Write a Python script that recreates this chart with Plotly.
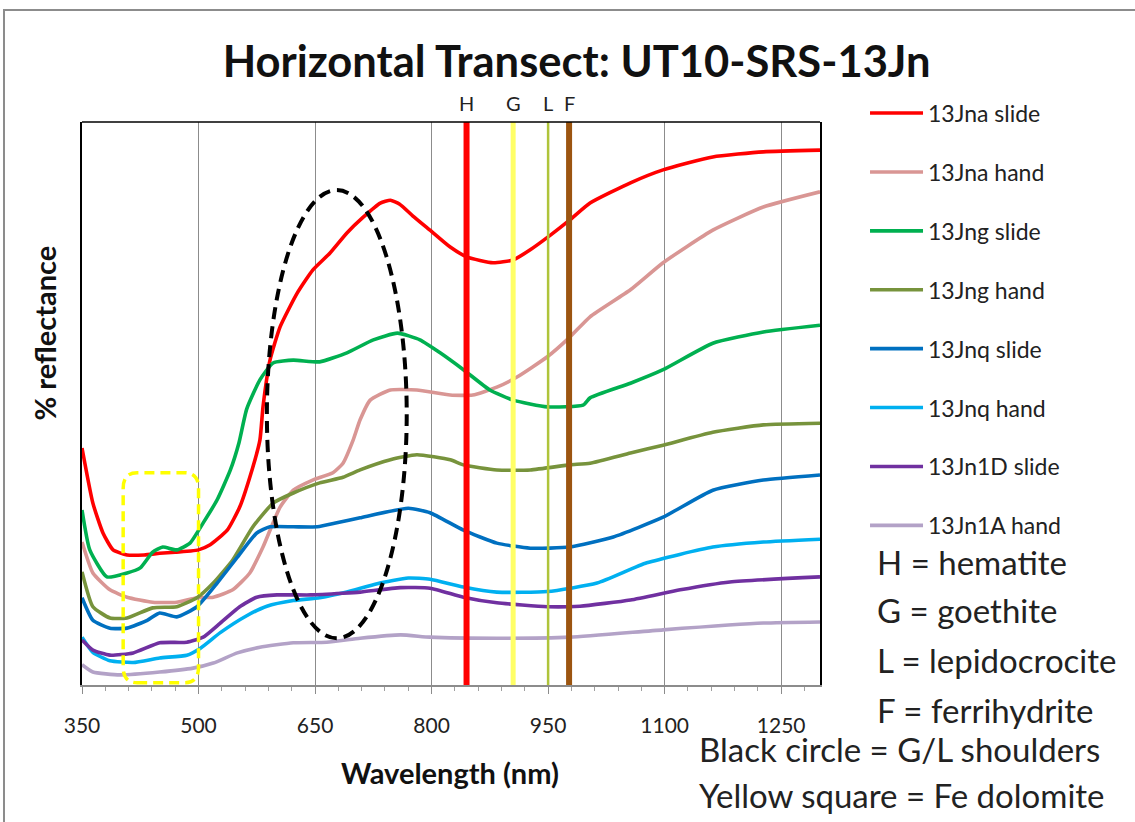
import plotly.graph_objects as go

# ---------------- data ----------------
series_names = ["13Jna slide", "13Jna hand", "13Jng slide", "13Jng hand",
                "13Jnq slide", "13Jnq hand", "13Jn1D slide", "13Jn1A hand"]
series_colors = ["#FF0000", "#D99694", "#00B050", "#77933C",
                 "#0070C0", "#00B0F0", "#7030A0", "#B3A2C7"]

wl_na_slide = [350, 364, 377, 390, 408, 430, 450, 470, 490, 500, 515, 537, 553, 566, 579, 583, 592, 605, 627, 647,
               669, 691, 712, 734, 747, 759, 776, 798, 824, 846, 879, 905, 927, 953, 978, 1004, 1056, 1098, 1162, 1227, 1300]
r_na_slide = [42.1, 32.3, 27.0, 24.0, 23.1, 23.1, 23.4, 23.6, 23.8, 24.0, 24.9, 27.5, 31.6, 36.9, 43.5, 49.4, 57.7, 63.6, 69.6, 73.7,
              76.7, 80.3, 83.1, 85.6, 86.1, 85.4, 83.3, 80.8, 77.8, 76.0, 75.0, 75.5, 77.3, 79.9, 82.6, 85.6, 89.2, 91.5, 93.8, 94.7, 95.0]

wl_na_hand = [350, 364, 386, 408, 441, 472, 498, 519, 544, 566, 583, 605, 622, 647, 673, 686, 699, 708, 721, 747,
              781, 824, 853, 884, 910, 949, 978, 1004, 1056, 1098, 1162, 1227, 1300]
r_na_hand = [25.4, 19.9, 16.9, 15.6, 14.7, 14.7, 15.5, 15.6, 16.9, 19.9, 24.5, 31.6, 34.6, 36.4, 37.7, 39.4, 43.5, 47.1, 50.6, 52.4,
             52.4, 51.5, 51.5, 52.9, 54.7, 58.3, 61.8, 65.4, 70.2, 75.0, 80.8, 84.9, 87.6]

wl_ng_slide = [350, 360, 382, 408, 425, 441, 454, 472, 489, 506, 524, 541, 552, 562, 579, 596, 622, 656, 691, 725,
               756, 785, 811, 841, 875, 905, 949, 995, 1004, 1056, 1098, 1162, 1227, 1300]
r_ng_slide = [31.1, 24.0, 19.2, 19.9, 20.8, 23.6, 24.5, 24.0, 25.2, 28.8, 32.9, 38.2, 43.0, 49.0, 54.2, 57.2, 57.7, 57.4, 59.0, 61.3,
              62.5, 61.3, 59.0, 56.0, 52.4, 50.6, 49.4, 49.7, 51.0, 53.6, 56.0, 60.7, 62.7, 63.9]

wl_ng_hand = [350, 364, 386, 408, 441, 472, 498, 519, 544, 570, 596, 622, 656, 686, 708, 747, 781, 824, 841, 884,
              927, 978, 1004, 1056, 1098, 1162, 1227, 1300]
r_ng_hand = [20.1, 13.9, 11.9, 11.9, 13.7, 13.9, 15.5, 18.1, 22.2, 28.1, 32.3, 34.1, 35.9, 36.9, 38.2, 40.0, 40.9, 40.0, 39.1, 38.2,
             38.2, 39.1, 39.4, 41.2, 42.6, 44.9, 46.2, 46.5]

wl_nq_slide = [350, 364, 386, 408, 434, 450, 472, 498, 524, 550, 575, 592, 622, 653, 678, 708, 770, 798, 841, 884,
               927, 978, 1034, 1098, 1162, 1227, 1300]
r_nq_slide = [15.5, 11.5, 10.1, 10.1, 11.5, 12.8, 12.1, 13.9, 18.1, 22.7, 27.0, 28.1, 28.1, 28.1, 28.8, 29.7, 31.4, 30.6, 27.5, 25.2,
              24.3, 24.5, 26.3, 29.8, 34.6, 36.4, 37.3]

wl_nq_hand = [350, 364, 386, 416, 450, 485, 502, 528, 562, 588, 622, 656, 691, 730, 770, 798, 841, 884, 949, 1013,
              1077, 1162, 1227, 1300]
r_nq_hand = [8.5, 5.8, 4.3, 4.0, 4.8, 5.3, 6.5, 9.3, 12.3, 14.0, 15.0, 15.5, 16.5, 18.0, 19.0, 18.8, 17.4, 16.5, 16.6, 18.1,
             21.7, 24.5, 25.4, 25.9]

wl_n1d_slide = [350, 364, 386, 416, 450, 485, 506, 528, 553, 575, 601, 644, 686, 708, 760, 798, 841, 884, 949, 991,
                1056, 1120, 1184, 1300]
r_n1d_slide = [8.0, 6.2, 5.3, 5.7, 7.5, 7.6, 8.5, 11.0, 13.9, 15.6, 16.0, 16.0, 16.3, 16.5, 17.3, 17.2, 15.6, 14.6, 13.9, 14.0,
               15.1, 16.9, 18.3, 19.2]

wl_n1a_hand = [350, 364, 399, 450, 493, 519, 550, 579, 622, 665, 708, 760, 798, 884, 978, 1098, 1227, 1300]
r_n1a_hand = [3.6, 2.3, 1.8, 2.3, 3.0, 3.9, 5.7, 6.7, 7.5, 7.6, 8.3, 8.9, 8.5, 8.3, 8.5, 9.8, 11.0, 11.2]

series_wl = [wl_na_slide, wl_na_hand, wl_ng_slide, wl_ng_hand, wl_nq_slide, wl_nq_hand, wl_n1d_slide, wl_n1a_hand]
series_r = [r_na_slide, r_na_hand, r_ng_slide, r_ng_hand, r_nq_slide, r_nq_hand, r_n1d_slide, r_n1a_hand]

# mineral absorption markers
mineral_labels = ["H", "G", "L", "F"]
mineral_wl = [845, 905, 950, 977]
mineral_colors = ["#FF0000", "#FFFF66", "#AFC43A", "#9C5510"]
mineral_widths = [6, 5, 2.5, 6]

key_lines = ["H = hematite", "G = goethite", "L = lepidocrocite", "F = ferrihydrite"]
note_lines = ["Black circle = G/L shoulders", "Yellow square = Fe dolomite"]

# highlight regions (wavelength / reflectance)
ellipse_wl = [588, 768]
ellipse_r = [8.3, 87.9]
box_wl = [403, 500]
box_r = [0.4, 37.7]

x_range = [350, 1300]
y_range = [0, 100]
tick_vals = [350, 500, 650, 800, 950, 1100, 1250]

FONT = "Lato, Carlito, Calibri, sans-serif"

fig = go.Figure()
for i, (name, col) in enumerate(zip(series_names, series_colors)):
    fig.add_trace(go.Scatter(
        x=series_wl[i], y=series_r[i], mode="lines", name=name,
        legendgroup=name,
        line=dict(color=col, width=3.6, shape="spline", smoothing=0.5),
    ))

shapes = []
# mineral bars
for wl, c, w in zip(mineral_wl, mineral_colors, mineral_widths):
    shapes.append(dict(type="line", xref="x", yref="paper", x0=wl, x1=wl, y0=0, y1=1,
                       line=dict(color=c, width=w), layer="above"))
# ellipse
shapes.append(dict(type="circle", xref="x", yref="y",
                   x0=ellipse_wl[0], x1=ellipse_wl[1], y0=ellipse_r[0], y1=ellipse_r[1],
                   line=dict(color="black", width=4, dash="12px,7px"), layer="above"))
# rounded yellow box
bx0, bx1 = box_wl
by0, by1 = box_r
rx, ry = 18, 2.8
path = (f"M{bx0+rx},{by0} L{bx1-rx},{by0} Q{bx1},{by0} {bx1},{by0+ry} "
        f"L{bx1},{by1-ry} Q{bx1},{by1} {bx1-rx},{by1} L{bx0+rx},{by1} "
        f"Q{bx0},{by1} {bx0},{by1-ry} L{bx0},{by0+ry} Q{bx0},{by0} {bx0+rx},{by0} Z")
shapes.append(dict(type="path", xref="x", yref="y", path=path,
                   line=dict(color="#FFFF00", width=3.5, dash="10px,6px"), layer="above"))
# top frame line
shapes.append(dict(type="line", xref="paper", yref="paper", x0=0, x1=1, y0=1, y1=1,
                   line=dict(color="black", width=1.5)))
# outer chart border
shapes.append(dict(type="rect", xref="paper", yref="paper", x0=-0.1057, x1=1.6, y0=-0.4, y1=1.1989,
                   line=dict(color="#8C8C8C", width=2)))

annotations = []
for lab, wl in zip(mineral_labels, mineral_wl):
    annotations.append(dict(x=wl, y=1.034, xref="x", yref="paper", text=lab, showarrow=False,
                            font=dict(family=FONT, size=20, color="#222"), xanchor="center", yanchor="middle"))
key_y = [0.2185, 0.1332, 0.0444, -0.0444]
for t, yy in zip(key_lines, key_y):
    annotations.append(dict(x=1.0745, y=yy, xref="paper", yref="paper", text=t, showarrow=False,
                            font=dict(family=FONT, size=33, color="#222"), xanchor="left", yanchor="middle"))
note_y = [-0.1137, -0.1954]
for t, yy in zip(note_lines, note_y):
    annotations.append(dict(x=0.8333, y=yy, xref="paper", yref="paper", text=t, showarrow=False,
                            font=dict(family=FONT, size=33, color="#222"), xanchor="left", yanchor="middle"))
# axis titles
annotations.append(dict(x=-0.051, y=0.625, xref="paper", yref="paper", text="<b>% reflectance</b>",
                        textangle=-90, showarrow=False, font=dict(family=FONT, size=29, color="#111"),
                        xanchor="center", yanchor="middle"))
annotations.append(dict(x=0.4986, y=-0.156, xref="paper", yref="paper", text="<b>Wavelength (nm)</b>",
                        showarrow=False, font=dict(family=FONT, size=29, color="#111"),
                        xanchor="center", yanchor="middle"))

fig.update_layout(
    width=1135, height=822,
    margin=dict(l=82, r=315, t=122, b=137),
    paper_bgcolor="white", plot_bgcolor="white",
    title=dict(text="<b>Horizontal Transect: UT10-SRS-13Jn</b>", x=0.508, y=0.9246,
               xref="container", yref="container", xanchor="center", yanchor="middle",
               font=dict(family=FONT, size=43.5, color="#111")),
    showlegend=True,
    legend=dict(x=1.061, y=1.054, xref="paper", yref="paper", xanchor="left", yanchor="top",
                font=dict(family=FONT, size=23, color="#222"), bgcolor="rgba(0,0,0,0)",
                tracegroupgap=26, itemwidth=53, maxheight=0.95),
    shapes=shapes,
    annotations=annotations,
)
fig.update_xaxes(range=x_range, tickvals=tick_vals, showgrid=True, gridcolor="#8C8C8C", gridwidth=1,
                 showline=True, linecolor="#8C8C8C", linewidth=1.5, ticks="outside", ticklen=7,
                 tickcolor="#8C8C8C", ticklabelstandoff=14,
                 tickfont=dict(family=FONT, size=21, color="#222"),
                 minor=dict(tick0=350, dtick=30, ticks="outside", ticklen=4, tickcolor="#A0A0A0", showgrid=False),
                 zeroline=False)
fig.update_yaxes(range=y_range, showticklabels=False, ticks="", showgrid=False, zeroline=False,
                 showline=True, linecolor="black", linewidth=1.5, mirror=True)

fig.write_html("out.html")
